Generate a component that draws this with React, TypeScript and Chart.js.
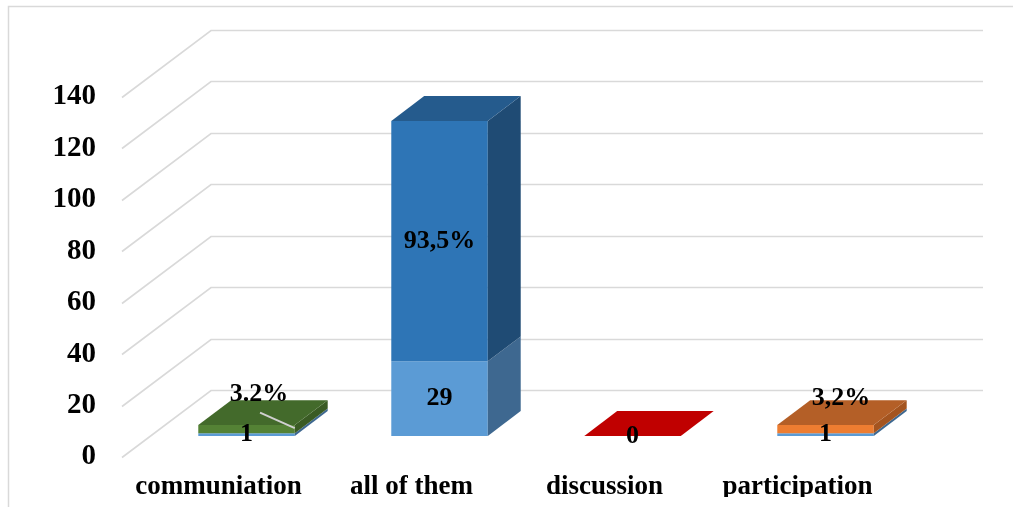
import React, { useEffect, useRef } from 'react';
import { Chart, registerables } from 'chart.js';

Chart.register(...registerables);

// ---- data ----
const categories = ['communiation', 'all of them', 'discussion', 'participation'];
const counts = [1, 29, 0, 1];
const percents = [3.2, 93.5, 0, 3.2];
const percentSeparators = ['.', ',', ',', ','];
const yTicks = [0, 20, 40, 60, 80, 100, 120, 140];

// ---- styles ----
const FONT = '"Liberation Serif", "Times New Roman", serif';
const GRID = '#D9D9D9';

type Face = { front: string; side: string; top: string };
const countFace: Face = { front: '#5B9BD5', side: '#3E6890', top: '#4A82B8' };
const percentFaces: Face[] = [
  { front: '#548235', side: '#3A5B24', top: '#436A2B' },
  { front: '#2E75B6', side: '#1F4B74', top: '#255B8D' },
  { front: '#C00000', side: '#8F0000', top: '#C00000' },
  { front: '#ED7D31', side: '#A4541F', top: '#B45F27' },
];
// label nudges (px) for the percent labels, and whether a leader line is drawn
const percentLabelNudge = [
  { dx: 12.5, dy: -35, leader: true },
  { dx: 0, dy: 0, leader: false },
  { dx: 0, dy: 0, leader: false },
  { dx: 15.5, dy: -31, leader: false },
];

// perspective of the side/back walls and where the bars sit inside the depth
const DEPTH_X = 89;
const DEPTH_Y = 67;
const BAR_FRONT = 0.315;
const BAR_BACK = 0.685;

const threeD = {
  id: 'threeD',
  beforeDraw(chart: any) {
    const { ctx } = chart;
    ctx.save();
    ctx.strokeStyle = GRID;
    ctx.lineWidth = 1.5;
    ctx.strokeRect(8.5, 6.5, 1100, 600);
    ctx.restore();
  },
  beforeDatasetsDraw(chart: any) {
    const { ctx, chartArea, scales } = chart;
    const y = scales.y;
    ctx.save();
    ctx.strokeStyle = GRID;
    ctx.lineWidth = 1.6;
    y.ticks.forEach((t: any) => {
      const py = Math.round(y.getPixelForValue(t.value)) + 0.5;
      ctx.beginPath();
      ctx.moveTo(chartArea.left, py);
      ctx.lineTo(chartArea.left + DEPTH_X, py - DEPTH_Y);
      ctx.lineTo(chartArea.right + DEPTH_X, py - DEPTH_Y);
      ctx.stroke();
    });
    ctx.restore();
  },
  afterDatasetsDraw(chart: any) {
    const { ctx } = chart;
    const fx = DEPTH_X * BAR_FRONT;
    const fy = -DEPTH_Y * BAR_FRONT;
    const bdx = DEPTH_X * (BAR_BACK - BAR_FRONT);
    const bdy = -DEPTH_Y * (BAR_BACK - BAR_FRONT);
    const nSets = chart.data.datasets.length;

    const poly = (pts: number[][], fill: string) => {
      ctx.beginPath();
      ctx.moveTo(pts[0][0], pts[0][1]);
      for (let k = 1; k < pts.length; k++) ctx.lineTo(pts[k][0], pts[k][1]);
      ctx.closePath();
      ctx.fillStyle = fill;
      ctx.fill();
    };

    ctx.save();
    categories.forEach((_, i) => {
      for (let d = 0; d < nSets; d++) {
        const el = chart.getDatasetMeta(d).data[i];
        const { x, y, base, width } = el.getProps(['x', 'y', 'base', 'width'], true);
        const face = d === 0 ? countFace : percentFaces[i];
        const L = x - width / 2 + fx;
        const R = x + width / 2 + fx;
        const top = Math.min(y, base) + fy;
        const bot = Math.max(y, base) + fy;
        if (bot - top > 0.3) {
          poly([[L, top], [R, top], [R, bot], [L, bot]], face.front);
          poly([[R, top], [R + bdx, top + bdy], [R + bdx, bot + bdy], [R, bot]], face.side);
        }
        if (d === nSets - 1) {
          poly([[L, top], [L + bdx, top + bdy], [R + bdx, top + bdy], [R, top]], face.top);
        }
      }
    });

    // data labels
    ctx.textAlign = 'center';
    ctx.textBaseline = 'middle';
    ctx.font = `bold 26px ${FONT}`;
    categories.forEach((_, i) => {
      const c = chart.getDatasetMeta(0).data[i].getProps(['x', 'y', 'base', 'width'], true);
      ctx.fillStyle = '#000';
      ctx.fillText(String(counts[i]), c.x + fx, (c.y + c.base) / 2 + fy);

      if (percents[i] > 0) {
        const p = chart.getDatasetMeta(1).data[i].getProps(['x', 'y', 'base', 'width'], true);
        const nudge = percentLabelNudge[i];
        const mid = (p.y + p.base) / 2 + fy;
        const lx = p.x + fx + nudge.dx;
        const ly = mid + nudge.dy;
        if (nudge.leader) {
          ctx.strokeStyle = '#D0D0D0';
          ctx.lineWidth = 2;
          ctx.beginPath();
          ctx.moveTo(lx + 1, ly + 18.5);
          ctx.lineTo(p.x + p.width / 2 + fx, mid - 1);
          ctx.stroke();
        }
        const text = percents[i].toFixed(1).replace('.', percentSeparators[i]) + '%';
        ctx.fillStyle = '#000';
        ctx.fillText(text, lx, ly);
      }
    });
    ctx.restore();
  },
};

export default function App() {
  const canvasRef = useRef<HTMLCanvasElement | null>(null);

  useEffect(() => {
    if (!canvasRef.current) return;
    const chart = new Chart(canvasRef.current, {
      type: 'bar',
      data: {
        labels: categories,
        datasets: [
          { label: 'count', data: counts, backgroundColor: 'rgba(0,0,0,0)', borderWidth: 0 },
          { label: 'percent', data: percents, backgroundColor: 'rgba(0,0,0,0)', borderWidth: 0 },
        ],
      },
      options: {
        responsive: false,
        animation: false,
        layout: { padding: { left: 0, top: 97, right: 119, bottom: 10 } },
        plugins: { legend: { display: false }, tooltip: { enabled: false } },
        datasets: { bar: { categoryPercentage: 1, barPercentage: 0.5 } },
        scales: {
          x: {
            stacked: true,
            grid: { display: false, drawTicks: false },
            border: { display: false },
            ticks: { color: '#000', padding: 14, font: { family: FONT, size: 27, weight: 'bold' } },
            afterFit: (scale: any) => { scale.height = 40; },
          },
          y: {
            stacked: true,
            min: yTicks[0],
            max: yTicks[yTicks.length - 1],
            grid: { display: false, drawTicks: false },
            border: { display: false },
            ticks: {
              stepSize: yTicks[1] - yTicks[0],
              color: '#000',
              padding: 26,
              font: { family: FONT, size: 29, weight: 'bold' },
            },
            afterFit: (scale: any) => { scale.width = 122; },
          },
        },
      } as any,
      plugins: [threeD],
    });
    return () => chart.destroy();
  }, []);

  return (
    <div style={{ position: 'fixed', left: 0, top: 0, width: 1013, height: 507, background: '#fff' }}>
      <canvas ref={canvasRef} width={1013} height={507} style={{ display: 'block' }} />
    </div>
  );
}
